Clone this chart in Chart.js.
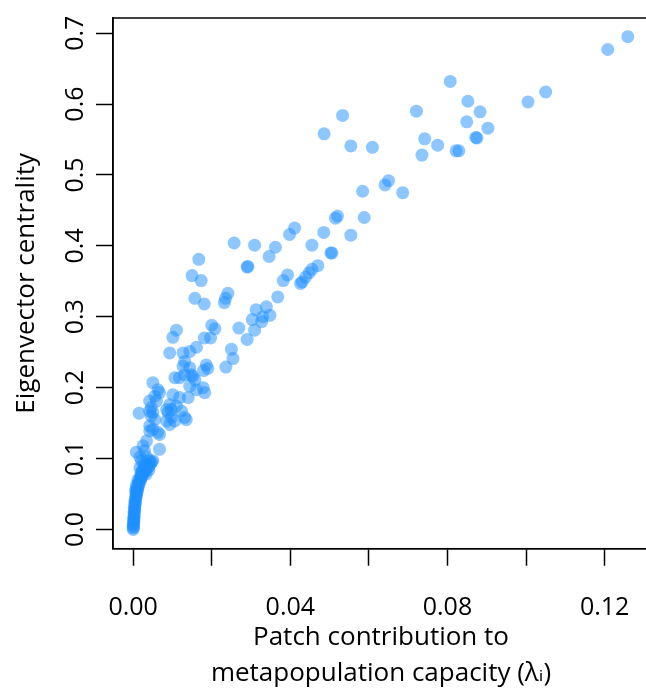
<!DOCTYPE html>
<html>
<head>
<meta charset="utf-8">
<script src="https://cdn.jsdelivr.net/npm/chart.js@4"></script>
<style>
  html, body { margin: 0; padding: 0; background: #fff; overflow: hidden; }
  #wrap { width: 670px; height: 700px; }
</style>
</head>
<body>
<div id="wrap"><canvas id="c" width="670" height="700"></canvas></div>
<script>
// ---- data: [patch contribution to metapopulation capacity, eigenvector centrality]
const topPatches = [[0.1208,0.677],[0.1259,0.695]];
const upperBranch = [
  [0.0807,0.632],[0.1050,0.617],[0.1005,0.603],[0.0852,0.604],[0.0883,0.589],[0.0721,0.590],
  [0.0533,0.584],[0.0486,0.558],[0.0849,0.575],[0.0903,0.566],[0.0872,0.553],[0.0875,0.552],
  [0.0742,0.551],[0.0775,0.542],[0.0554,0.541],[0.0609,0.539],[0.0735,0.528],[0.0822,0.534],
  [0.0829,0.534],[0.0650,0.492],[0.0641,0.486],[0.0584,0.477],[0.0686,0.475],[0.0520,0.442],
  [0.0515,0.439],[0.0588,0.440],[0.0411,0.425],[0.0398,0.416],[0.0485,0.419],[0.0554,0.415],
  [0.0455,0.401],[0.0503,0.390],[0.0506,0.390],[0.0470,0.372],[0.0455,0.367],[0.0448,0.362],
  [0.0439,0.356],[0.0430,0.349],[0.0426,0.347],[0.0393,0.359],[0.0382,0.351],[0.0368,0.328]
];
const midBranch = [
  [0.0257,0.404],[0.0309,0.401],[0.0362,0.398],[0.0346,0.385],[0.0167,0.381],[0.0290,0.370],
  [0.0292,0.371],[0.0150,0.358],[0.0173,0.351],[0.0241,0.333],[0.0235,0.326],[0.0232,0.320],
  [0.0157,0.326],[0.0181,0.318],[0.0313,0.310],[0.0339,0.314],[0.0303,0.296],[0.0330,0.300],
  [0.0348,0.302],[0.0327,0.293],[0.0309,0.281],[0.0269,0.284],[0.0200,0.288],[0.0208,0.283],
  [0.0197,0.270],[0.0181,0.270],[0.0290,0.268],[0.0110,0.281],[0.0101,0.271],[0.0250,0.254],
  [0.0254,0.241],[0.0161,0.257],[0.0144,0.251],[0.0127,0.249],[0.0093,0.249],[0.0236,0.229],
  [0.0186,0.232],[0.0190,0.227],[0.0179,0.224],[0.0144,0.228],[0.0127,0.230],[0.0131,0.218],
  [0.0148,0.218],[0.0131,0.237],[0.0152,0.216],[0.0157,0.211],[0.0118,0.214],[0.0106,0.214],
  [0.0178,0.200],[0.0182,0.193],[0.0144,0.202],[0.0161,0.197],[0.0140,0.186],[0.0118,0.186],
  [0.0101,0.190],[0.0093,0.176],[0.0097,0.169],[0.0110,0.174],[0.0123,0.167],[0.0131,0.158],
  [0.0135,0.155],[0.0085,0.169],[0.0089,0.165],[0.0097,0.158],[0.0106,0.153],[0.0093,0.148],
  [0.0085,0.153]
];
const lowCluster = [
  [0.0050,0.207],[0.0063,0.197],[0.0067,0.193],[0.0055,0.188],[0.0059,0.181],[0.0050,0.165],
  [0.0046,0.160],[0.0055,0.155],[0.0042,0.167],[0.0015,0.164],[0.0042,0.139],[0.0050,0.141],
  [0.0063,0.137],[0.0067,0.134],[0.0042,0.146],[0.0034,0.125],[0.0025,0.118],[0.0029,0.111],
  [0.0067,0.113],[0.0008,0.109],[0.0017,0.102],[0.0021,0.097],[0.0034,0.102],[0.0042,0.097],
  [0.0050,0.097],[0.0042,0.181],[0.0046,0.172]
];
const originCluster = [
  [0.0000,0.000],[0.0000,0.002],[0.0001,0.004],[0.0000,0.006],[0.0001,0.008],[0.0001,0.010],
  [0.0002,0.012],[0.0001,0.014],[0.0002,0.016],[0.0002,0.018],[0.0003,0.021],[0.0002,0.023],
  [0.0003,0.025],[0.0004,0.028],[0.0003,0.030],[0.0004,0.032],[0.0005,0.035],[0.0004,0.037],
  [0.0006,0.039],[0.0005,0.041],[0.0007,0.044],[0.0006,0.046],[0.0008,0.048],[0.0009,0.050],
  [0.0007,0.052],[0.0010,0.054],[0.0011,0.056],[0.0009,0.058],[0.0013,0.060],[0.0012,0.062],
  [0.0015,0.064],[0.0014,0.066],[0.0018,0.068],[0.0016,0.070],[0.0020,0.072],[0.0022,0.074],
  [0.0019,0.076],[0.0025,0.078],[0.0028,0.080],[0.0023,0.082],[0.0031,0.083],[0.0026,0.085],
  [0.0034,0.086],[0.0038,0.088],[0.0030,0.089],[0.0041,0.090],[0.0036,0.092],[0.0044,0.093],
  [0.0027,0.094],[0.0047,0.095],[0.0012,0.070],[0.0008,0.062],[0.0020,0.080],[0.0033,0.078],
  [0.0040,0.084],[0.0006,0.055],[0.0017,0.087]
];
const xTickValues = [0, 0.02, 0.04, 0.06, 0.08, 0.10, 0.12];
const xTickLabels = ['0.00', '', '0.04', '', '0.08', '', '0.12'];
const yTickValues = [0, 0.1, 0.2, 0.3, 0.4, 0.5, 0.6, 0.7];
const yTickLabels = ['0.0', '0.1', '0.2', '0.3', '0.4', '0.5', '0.6', '0.7'];
const xTitle = ['Patch contribution to', 'metapopulation capacity (\u03BB\u1D62)'];
const yTitle = 'Eigenvector centrality';

const allPoints = [].concat(topPatches, upperBranch, midBranch, lowCluster, originCluster)
  .map(p => ({ x: p[0], y: p[1] }));

const FONT = "'Open Sans', 'DejaVu Sans', sans-serif";

const boxPlugin = {
  id: 'box',
  afterDraw(chart) {
    const { ctx, chartArea: a } = chart;
    ctx.save();
    ctx.strokeStyle = '#000';
    ctx.lineWidth = 1.5;
    ctx.strokeRect(a.left, a.top, a.right - a.left, a.bottom - a.top);
    ctx.restore();
  }
};

new Chart(document.getElementById('c'), {
  type: 'scatter',
  data: {
    datasets: [{
      data: allPoints,
      backgroundColor: 'rgba(30,144,255,0.5)',
      borderWidth: 0,
      pointRadius: 6.5,
      pointHoverRadius: 6.5
    }]
  },
  options: {
    responsive: false,
    animation: false,
    devicePixelRatio: 1,
    layout: { padding: { left: 0, top: 14, right: 21, bottom: 0 } },
    plugins: { legend: { display: false }, tooltip: { enabled: false } },
    scales: {
      x: {
        type: 'linear',
        min: -0.00514,
        max: 0.1313,
        afterBuildTicks: s => { s.ticks = xTickValues.map(v => ({ value: v })); },
        afterFit: s => { s.height = 151.3; },
        grid: { display: true, drawOnChartArea: false, drawTicks: true, tickLength: 17, tickWidth: 1.5, tickColor: '#000' },
        border: { display: true, color: '#000', width: 1.5 },
        ticks: {
          autoSkip: false, maxRotation: 0, minRotation: 0, padding: 27, color: '#000',
          font: { family: FONT, size: 25, lineHeight: 1.2 },
          callback: (v, i) => xTickLabels[i]
        },
        title: {
          display: true, text: xTitle, color: '#000',
          font: { family: FONT, size: 26, lineHeight: 1.4 },
          padding: { top: 0, bottom: 8 }
        }
      },
      y: {
        type: 'linear',
        min: -0.0272,
        max: 0.7214,
        afterBuildTicks: s => { s.ticks = yTickValues.map(v => ({ value: v })); },
        afterFit: s => { s.width = 113; },
        grid: { display: true, drawOnChartArea: false, drawTicks: true, tickLength: 17, tickWidth: 1.5, tickColor: '#000' },
        border: { display: true, color: '#000', width: 1.5 },
        ticks: {
          autoSkip: false, minRotation: 90, maxRotation: 90, crossAlign: 'center', padding: 3, color: '#000',
          font: { family: FONT, size: 25, lineHeight: 1.2 },
          callback: (v, i) => yTickLabels[i]
        },
        title: {
          display: true, text: yTitle, color: '#000',
          font: { family: FONT, size: 26, lineHeight: 1.2 },
          padding: { top: 11, bottom: 0 }
        }
      }
    }
  },
  plugins: [boxPlugin]
});
</script>
</body>
</html>
